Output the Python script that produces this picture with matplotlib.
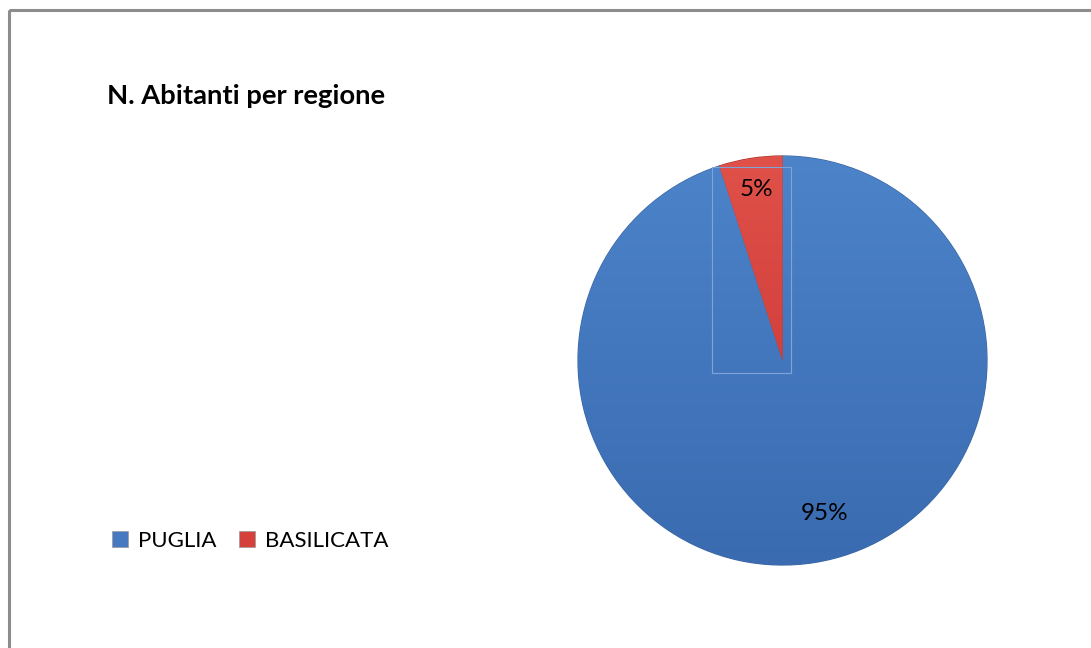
import numpy as np
import matplotlib
matplotlib.use("Agg")
import matplotlib.pyplot as plt
from matplotlib.patches import Rectangle, Patch
from matplotlib.colors import LinearSegmentedColormap

plt.rcParams['font.family'] = ['Lato', 'DejaVu Sans']

# Data
regions = ["PUGLIA", "BASILICATA"]
shares = [95, 5]
colors = ["#4679bf", "#d6403b"]
grad_top = ["#4c83c9", "#e0514a"]
grad_bottom = ["#3a6bb1", "#c4302c"]
title = "N. Abitanti per regione"

W, H = 1091, 648
fig = plt.figure(figsize=(W / 100, H / 100), dpi=100)
fig.patch.set_facecolor("white")

# Outer frame (only top and left edges fall inside the canvas)
frame_ax = fig.add_axes([0, 0, 1, 1])
frame_ax.set_xlim(0, W)
frame_ax.set_ylim(H, 0)
frame_ax.axis("off")
frame_ax.add_patch(Rectangle((8.5, 10), W + 20, H + 20, fill=False,
                             edgecolor="#8c8c8c", linewidth=2.2))

# Title
fig.text(107 / W, 1 - 104 / H, title, fontsize=19.7, fontweight="bold",
         color="black", ha="left", va="baseline")

# Pie axes
cx, cy, r = 782.5, 360.5, 204.5
ax = fig.add_axes([(cx - r) / W, (H - cy - r) / H, 2 * r / W, 2 * r / H])

wedges, _, autotexts = ax.pie(
    shares, colors=colors, startangle=90, counterclock=False, radius=1,
    autopct=lambda p: f"{p:.0f}%",
    wedgeprops=dict(edgecolor="#3c66a0", linewidth=0.9),
    textprops=dict(fontsize=17.5, color="black"))
ax.set_xlim(-1, 1)
ax.set_ylim(-1, 1)
ax.axis("off")

# Vertical gradient fill inside each wedge (lighter at the top)
yy = np.linspace(0, 1, 256).reshape(-1, 1)
for w, top, bot in zip(wedges, grad_top, grad_bottom):
    cmap = LinearSegmentedColormap.from_list("g", [top, bot])
    im = ax.imshow(np.repeat(yy, 2, axis=1), cmap=cmap, extent=[-1, 1, -1, 1],
                   origin="upper", aspect="auto", zorder=w.get_zorder() + 0.1,
                   vmin=0, vmax=1)
    im.set_clip_path(w)
wedges[1].set_edgecolor("#a8322e")

# Light box around the small slice
ax.add_patch(Rectangle(((712 - cx) / r, (cy - 373) / r), 79 / r, 206 / r,
                       fill=False, edgecolor="#7fa4d6", linewidth=0.8, zorder=5))

# Percentage labels
label_pos = [(0.208, -0.746), (-0.125, 0.834)]
for t, (x, y) in zip(autotexts, label_pos):
    t.set_position((x, y))
    t.set_ha("center")
    t.set_va("center")
    t.set_zorder(10)

# Legend
handles = [Patch(facecolor=c, edgecolor="#999999", linewidth=0.5) for c in colors]
fig.legend(handles, regions, loc="center left",
           bbox_to_anchor=(112 / W, 1 - 541 / H), ncol=2, frameon=False,
           fontsize=16, handlelength=0.7, handleheight=0.7,
           handletextpad=0.45, columnspacing=1.05, borderpad=0, borderaxespad=0)

fig.savefig("out.png", dpi=100, facecolor="white")
